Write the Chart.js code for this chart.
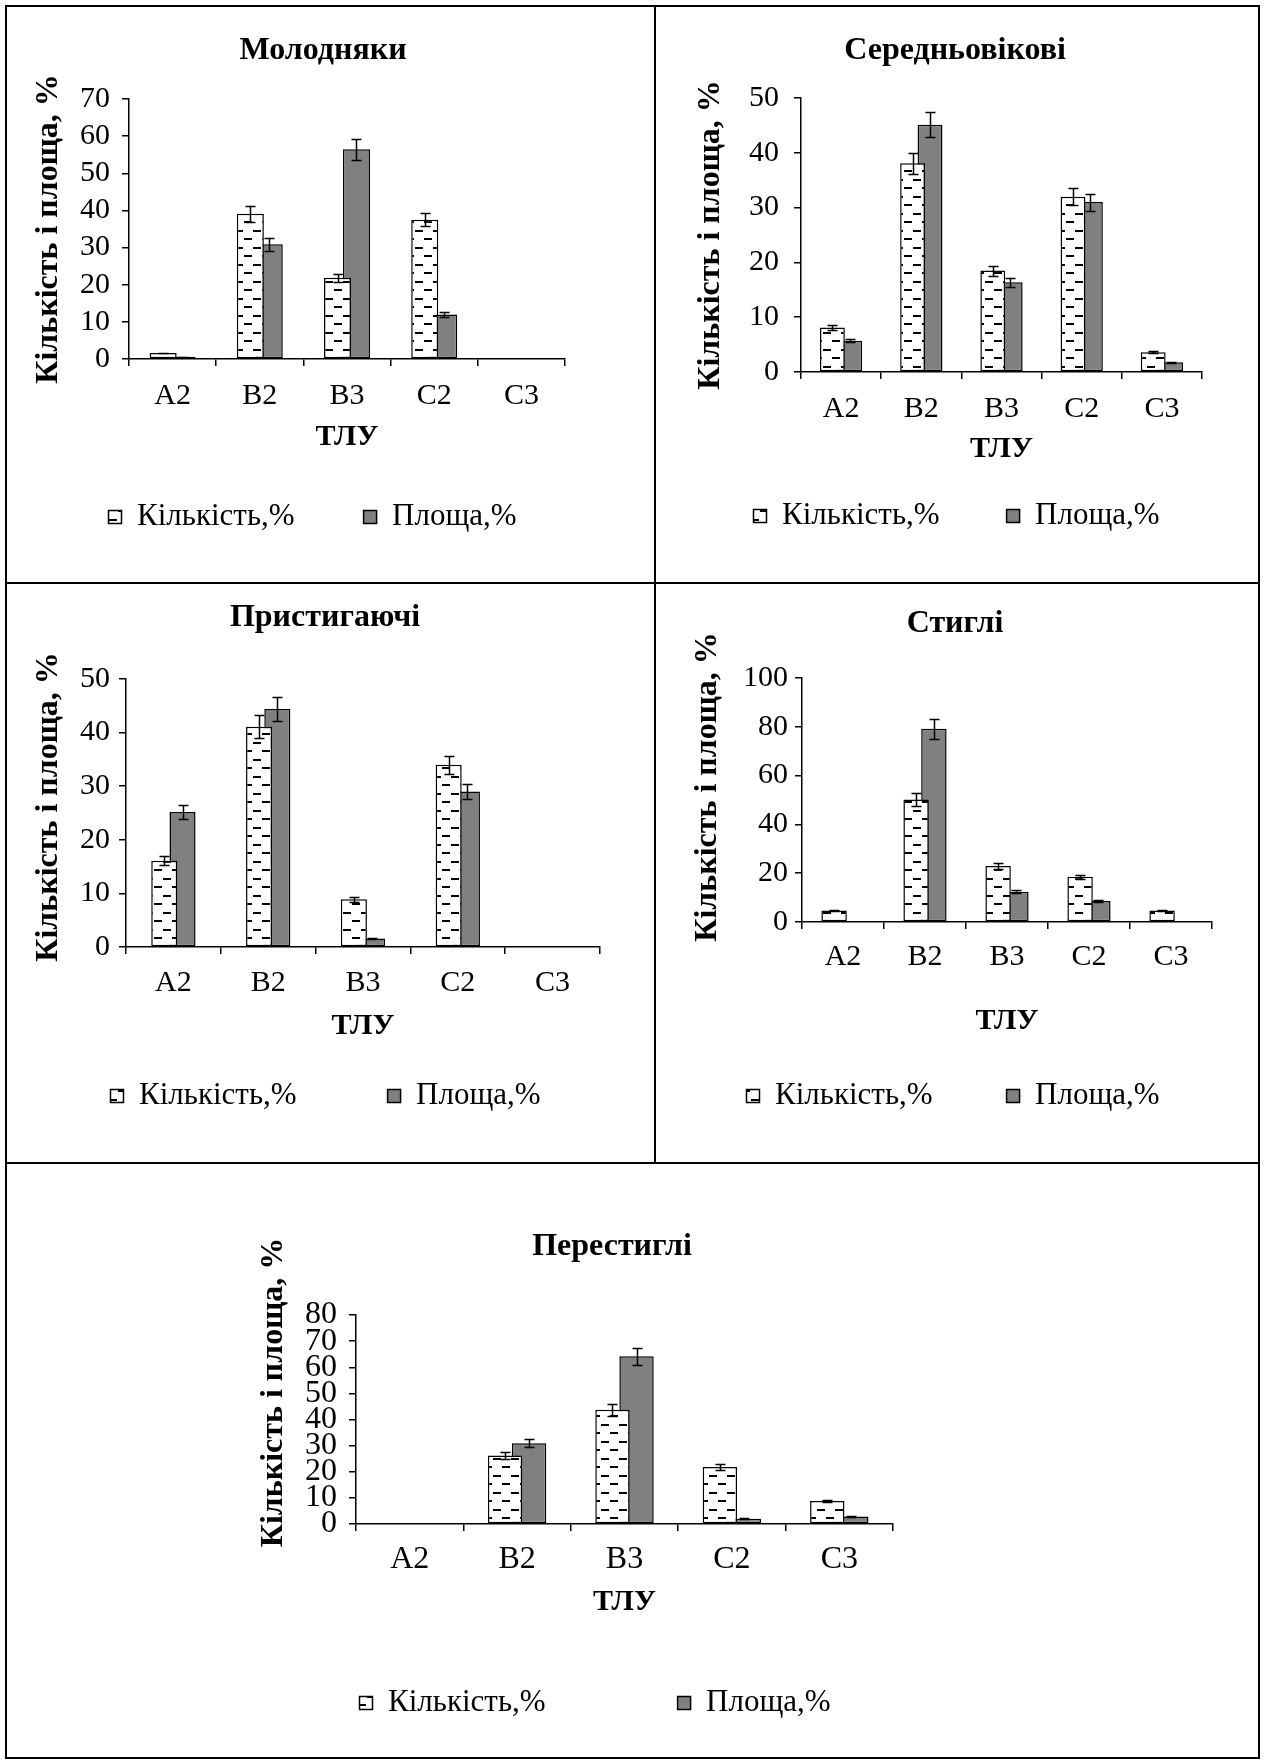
<!doctype html>
<html>
<head>
<meta charset="utf-8">
<title>Кількість і площа за ТЛУ</title>
<script src="https://cdn.jsdelivr.net/npm/chart.js@4.4.1/dist/chart.umd.min.js"></script>
<style>
  html, body { margin: 0; padding: 0; background: #fff; }
  #page { position: relative; width: 1264px; height: 1762px; overflow: hidden; }
  #page canvas { position: absolute; }
  .ln { position: absolute; background: #000; }
</style>
</head>
<body>
<div id="page">
  <div class="ln" style="left:5px;top:5px;width:1255px;height:2px"></div>
  <div class="ln" style="left:5px;top:1757px;width:1255px;height:2px"></div>
  <div class="ln" style="left:5px;top:5px;width:2px;height:1754px"></div>
  <div class="ln" style="left:1258px;top:5px;width:2px;height:1754px"></div>
  <div class="ln" style="left:654px;top:5px;width:2px;height:1159px"></div>
  <div class="ln" style="left:5px;top:582px;width:1255px;height:2px"></div>
  <div class="ln" style="left:5px;top:1162px;width:1255px;height:2px"></div>
</div>

<script>
// categories (ТЛУ)
var categories = ['A2', 'B2', 'B3', 'C2', 'C3'];

// Молодняки
var youngCount    = [1.6, 39.1, 21.9, 37.5, 0];
var youngCountErr = [0.1, 2.2, 1.1, 1.8, 0];
var youngArea     = [0.6, 30.9, 56.5, 12.0, 0];
var youngAreaErr  = [0.05, 1.7, 2.8, 0.7, 0];

// Середньовікові
var middleCount    = [8.1, 38.1, 18.5, 32.0, 3.6];
var middleCountErr = [0.4, 1.9, 0.9, 1.6, 0.2];
var middleArea     = [5.7, 45.1, 16.4, 31.0, 1.8];
var middleAreaErr  = [0.3, 2.3, 0.8, 1.55, 0.1];

// Пристигаючі
var preCount    = [16.1, 41.1, 8.9, 34.0, 0];
var preCountErr = [0.8, 2.1, 0.45, 1.7, 0];
var preArea     = [25.2, 44.4, 1.6, 29.0, 0];
var preAreaErr  = [1.3, 2.2, 0.1, 1.45, 0];

// Стиглі
var matureCount    = [4.7, 50.2, 23.0, 18.5, 4.7];
var matureCountErr = [0.2, 2.5, 1.1, 0.9, 0.2];
var matureArea     = [0.3, 79.2, 12.4, 8.6, 0.3];
var matureAreaErr  = [0, 4.0, 0.6, 0.4, 0];

// Перестиглі
var overCount    = [0, 26.2, 43.7, 21.8, 8.8];
var overCountErr = [0, 1.3, 2.2, 1.1, 0.45];
var overArea     = [0, 30.9, 64.2, 2.05, 2.9];
var overAreaErr  = [0, 1.55, 3.2, 0.1, 0.15];

var FONT = "'Liberation Serif', 'Times New Roman', serif";

// layout of the five panels (page pixels)
var panels = [
  {title: 'Молодняки', count: youngCount, countErr: youngCountErr, area: youngArea, areaErr: youngAreaErr,
   max: 70, step: 10, box: [0, 6, 646, 574], plot: [129, 99, 565, 359],
   titleY: 51, yTitleX: 49, yTitleDY: 0, tickY: 396, xTitleY: 437, legendY: 517, t1: 137, t2: 392,
   barFrac: 0.31, yPad: 12, tickSize: 30},
  {title: 'Середньовікові', count: middleCount, countErr: middleCountErr, area: middleArea, areaErr: middleAreaErr,
   max: 50, step: 10, box: [660, 6, 590, 574], plot: [801, 98, 1202, 372],
   titleY: 51, yTitleX: 711, yTitleDY: 0, tickY: 409, xTitleY: 449, legendY: 516, t1: 782, t2: 1035,
   barFrac: 0.31, yPad: 15, tickSize: 30},
  {title: 'Пристигаючі', count: preCount, countErr: preCountErr, area: preArea, areaErr: preAreaErr,
   max: 50, step: 10, box: [0, 586, 650, 574], plot: [126, 679, 600, 947],
   titleY: 618, yTitleX: 49, yTitleDY: -6, tickY: 983, xTitleY: 1026, legendY: 1096, t1: 139, t2: 416,
   barFrac: 0.275, yPad: 9, tickSize: 30},
  {title: 'Стиглі', count: matureCount, countErr: matureCountErr, area: matureArea, areaErr: matureAreaErr,
   max: 100, step: 20, box: [660, 586, 590, 574], plot: [802, 678, 1212, 922],
   titleY: 624, yTitleX: 708, yTitleDY: -13, tickY: 957, xTitleY: 1021, legendY: 1096, t1: 775, t2: 1035,
   barFrac: 0.31, yPad: 7, tickSize: 30},
  {title: 'Перестиглі', count: overCount, countErr: overCountErr, area: overArea, areaErr: overAreaErr,
   max: 80, step: 10, box: [240, 1166, 744, 590], plot: [356, 1315, 893, 1524],
   titleY: 1247, yTitleX: 274, yTitleDY: -27, tickY: 1560, xTitleY: 1602, legendY: 1703, t1: 388, t2: 706,
   barFrac: 0.32, yPad: 12, tickSize: 32}
];

// white fill with short staggered dashes
function dashPattern() {
  var c = document.createElement('canvas');
  c.width = 18; c.height = 17;
  var g = c.getContext('2d');
  g.fillStyle = '#fff';
  g.fillRect(0, 0, 18, 17);
  g.fillStyle = '#000';
  g.fillRect(1, 3, 8, 2);
  g.fillRect(10, 11, 8, 2);
  return g.createPattern(c, 'repeat');
}

var errorBars = {
  id: 'errorBars',
  afterDatasetsDraw: function(chart) {
    var ctx = chart.ctx, ys = chart.scales.y;
    ctx.save();
    ctx.strokeStyle = '#000';
    ctx.lineWidth = 1.5;
    chart.data.datasets.forEach(function(ds, i) {
      chart.getDatasetMeta(i).data.forEach(function(bar, j) {
        var e = ds.err[j];
        if (!e) return;
        var v = ds.data[j];
        var y1 = Math.round(ys.getPixelForValue(v + e)) + 0.5;
        var y2 = Math.round(ys.getPixelForValue(Math.max(v - e, 0))) + 0.5;
        var x = Math.round(bar.x) + 0.5;
        ctx.beginPath();
        ctx.moveTo(x, y1); ctx.lineTo(x, y2);
        ctx.moveTo(x - 5, y1); ctx.lineTo(x + 5, y1);
        ctx.moveTo(x - 5, y2); ctx.lineTo(x + 5, y2);
        ctx.stroke();
      });
    });
    ctx.restore();
  }
};

var measurer = document.createElement('canvas').getContext('2d');
function textWidth(txt, font) {
  measurer.font = font;
  return measurer.measureText(txt).width;
}

var page = document.getElementById('page');
var hatch = dashPattern();

panels.forEach(function(p) {
  var bx = p.box[0], by = p.box[1], bw = p.box[2], bh = p.box[3];
  var cv = document.createElement('canvas');
  cv.width = bw; cv.height = bh;
  cv.style.left = bx + 'px';
  cv.style.top = by + 'px';
  page.appendChild(cv);

  var L = p.plot[0] - bx, T = p.plot[1] - by, R = p.plot[2] - bx, B = p.plot[3] - by;

  var titleSize = 32, titleLH = titleSize * 1.2;
  var titleTop = p.titleY - by - titleLH / 2;

  var ySize = 32, yLH = ySize * 1.2;
  var xSize = 30, xLH = xSize * 1.2;
  var tickSize = p.tickSize, tickLH = tickSize * 1.2;

  var legSize = 31, box = 13;
  var w1 = textWidth('Кількість,%', legSize + 'px ' + FONT);
  var gap = Math.round((p.t2 - p.t1) - (box + legSize / 2 + w1));
  var legTop = p.legendY - by - legSize / 2 - gap;
  var legH = 40;
  var firstX = p.t1 - bx - box - legSize / 2;

  var hx = (p.xTitleY - by) + xLH / 2 + 4 - B;
  var padBottom = Math.max(bh - B - hx - legH, 0);
  var xTickPad = p.tickY - p.plot[3] - 7 - tickLH / 2;

  var W = (p.plot[2] - p.plot[0]) / categories.length;
  var barW = W * p.barFrac;
  var catPct = 1.4 * barW / W;
  var barPct = 1 / 0.7;

  // moves the legend row to where the picture has it
  var legendPlace = {
    id: 'legendPlace',
    afterLayout: function(chart) {
      var lg = chart.legend;
      if (!lg || !lg.lineWidths) return;
      var start = (lg.left + gap + lg.right - lg.lineWidths[0]) / 2;
      var dx = firstX - start;
      if (isFinite(dx)) { lg.left += dx; lg.right += dx; }
      var h = gap + legSize + 10;
      lg.top = legTop;
      lg.bottom = legTop + h;
      lg.height = h;
    }
  };

  new Chart(cv.getContext('2d'), {
    type: 'bar',
    data: {
      labels: categories,
      datasets: [{
        label: 'Кількість,%',
        data: p.count,
        err: p.countErr,
        backgroundColor: hatch,
        borderColor: '#000',
        borderWidth: 1.5,
        borderSkipped: false,
        categoryPercentage: catPct,
        barPercentage: barPct,
        xAxisID: 'x', yAxisID: 'y'
      }, {
        label: 'Площа,%',
        data: p.area,
        err: p.areaErr,
        backgroundColor: '#808080',
        borderColor: '#000',
        borderWidth: 1.5,
        borderSkipped: false,
        categoryPercentage: catPct,
        barPercentage: barPct,
        xAxisID: 'x', yAxisID: 'y'
      }]
    },
    options: {
      responsive: false,
      animation: false,
      devicePixelRatio: 1,
      layout: {padding: {left: 0, right: 0, top: 0, bottom: padBottom}},
      plugins: {
        title: {
          display: true,
          text: p.title,
          color: '#000',
          font: {family: FONT, size: titleSize, weight: 'bold'},
          padding: {top: titleTop, bottom: T - titleTop - titleLH}
        },
        legend: {
          display: true,
          position: 'bottom',
          maxHeight: legH,
          labels: {
            color: '#000',
            font: {family: FONT, size: legSize},
            boxWidth: box,
            boxHeight: box,
            padding: gap
          }
        },
        tooltip: {enabled: false}
      },
      scales: {
        x: {
          grid: {display: true, drawOnChartArea: false, drawTicks: true, tickLength: 7,
                 color: '#000', lineWidth: 1.5, offset: true},
          border: {display: true, color: '#000', width: 1.5},
          ticks: {color: '#000', font: {family: FONT, size: tickSize}, padding: xTickPad, maxRotation: 0},
          title: {display: true, text: 'ТЛУ', color: '#000',
                  font: {family: FONT, size: xSize, weight: 'bold'},
                  padding: {top: 0, bottom: 4}},
          afterFit: function(s) { s.height = hx; }
        },
        y: {
          min: 0,
          max: p.max,
          ticks: {stepSize: p.step, color: '#000', autoSkip: false, padding: p.yPad,
                  font: {family: FONT, size: tickSize, lineHeight: 1}},
          grid: {display: true, drawOnChartArea: false, drawTicks: true, tickLength: 7,
                 color: '#000', lineWidth: 1.5},
          border: {display: true, color: '#000', width: 1.5},
          title: {display: true, text: 'Кількість і площа, %', color: '#000',
                  font: {family: FONT, size: ySize, weight: 'bold'},
                  padding: {top: p.yTitleX - bx - yLH / 2, bottom: 0}},
          afterFit: function(s) {
            s.width = L;
            if (!s._titleShifted && p.yTitleDY) {
              var orig = s.drawTitle;
              s.drawTitle = function() {
                this.ctx.save();
                this.ctx.translate(0, p.yTitleDY);
                orig.apply(this, arguments);
                this.ctx.restore();
              };
              s._titleShifted = true;
            }
          }
        },
        pad: {
          type: 'linear',
          position: 'right',
          display: true,
          grid: {display: false},
          border: {display: false},
          ticks: {display: false},
          afterFit: function(s) { s.width = bw - R; }
        }
      }
    },
    plugins: [errorBars, legendPlace]
  });
});
</script>
</body>
</html>
